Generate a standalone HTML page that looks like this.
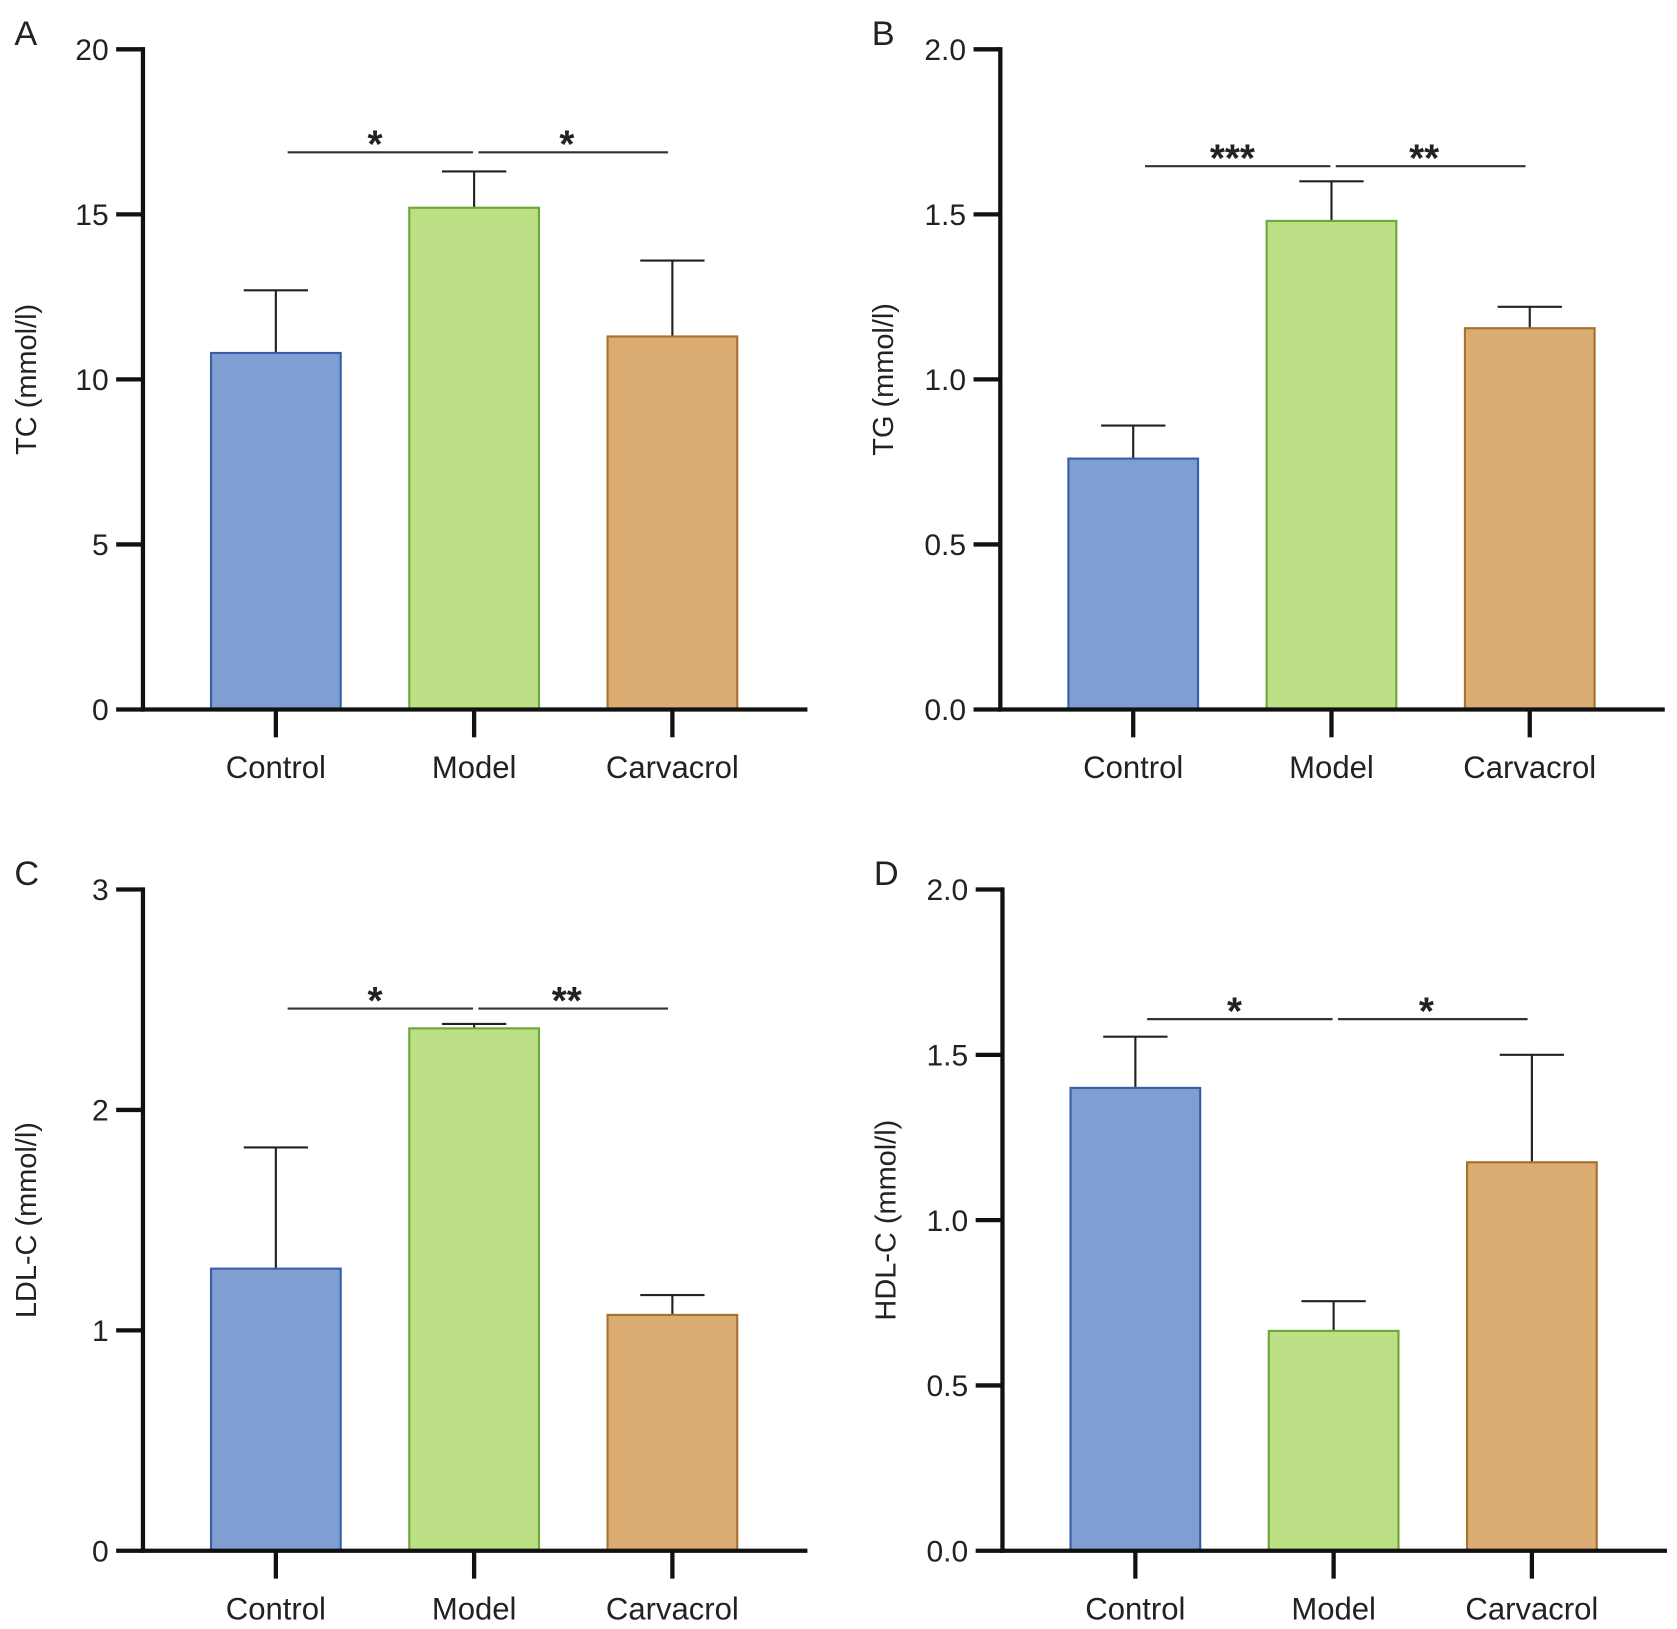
<!DOCTYPE html>
<html><head><meta charset="utf-8"><style>
html,body{margin:0;padding:0;background:#fff}
svg{display:block}
text{font-family:"Liberation Sans",Arial,sans-serif;fill:#222}
</style></head><body>
<svg id="fig" width="1677" height="1629" viewBox="0 0 1564 1520" xmlns="http://www.w3.org/2000/svg"></svg>
<script>
const categories = ["Control","Model","Carvacrol"];
const tcValues = [10.8, 15.2, 11.3];
const tcErrors = [12.7, 16.3, 13.6];
const tgValues = [0.76, 1.48, 1.155];
const tgErrors = [0.86, 1.6, 1.22];
const ldlValues = [1.28, 2.37, 1.07];
const ldlErrors = [1.83, 2.39, 1.16];
const hdlValues = [1.40, 0.665, 1.175];
const hdlErrors = [1.555, 0.755, 1.5];
const tcTicks = ["0","5","10","15","20"];
const tgTicks = ["0.0","0.5","1.0","1.5","2.0"];
const ldlTicks = ["0","1","2","3"];
const hdlTicks = ["0.0","0.5","1.0","1.5","2.0"];
const tcSig = [16.88, "*", "*"];
const tgSig = [1.646, "***", "**"];
const ldlSig = [2.46, "*", "**"];
const hdlSig = [1.608, "*", "*"];

const fills = ["#7f9fd3","#bddf86","#dcad72"];
const strokes = ["#3a5ea8","#6aa83a","#a8702e"];
const NS = "http://www.w3.org/2000/svg";
const svg = document.getElementById("fig");
function mk(tag, attrs, parent, txt){
  const e = document.createElementNS(NS, tag);
  for (const k in attrs) e.setAttribute(k, attrs[k]);
  if (txt !== undefined) e.textContent = txt;
  (parent||svg).appendChild(e);
  return e;
}
function panel(o){
  const g = mk("g", {});
  
  
  const ymax = o.max;
  const y = v => o.y0 - (v / ymax) * (o.y0 - o.yTop);
  const step = 185;
  const xc = i => o.ax + 124 + i * step;
  const bw = 121;
  const t = mk("text", {x:o.ax-120, y:o.yTop-4, "font-size":32}, g, o.letter);
  
  
  o.vals.forEach((v,i)=>{
    const eb = mk("g", {}, g);
    
    
    mk("line", {x1:xc(i), x2:xc(i), y1:y(v), y2:y(o.errs[i]), stroke:"#222","stroke-width":2}, eb);
    mk("line", {x1:xc(i)-30, x2:xc(i)+30, y1:y(o.errs[i]), y2:y(o.errs[i]), stroke:"#222","stroke-width":2}, eb);
    const r = mk("rect", {x:xc(i)-bw/2, y:y(v), width:bw, height:o.y0-y(v), fill:fills[i], stroke:strokes[i], "stroke-width":2}, g);
    
    
  });
  const ya = mk("g", {}, g);
  
  
  mk("line", {x1:o.ax, x2:o.ax, y1:o.yTop-2, y2:o.y0+2, stroke:"#111","stroke-width":4}, ya);
  o.ticks.forEach(tk=>{
    const v = parseFloat(tk);
    mk("line", {x1:o.ax-25, x2:o.ax, y1:y(v), y2:y(v), stroke:"#111","stroke-width":4}, ya);
    const tl = mk("text", {x:o.ax-32, y:y(v)+10, "font-size":28, "text-anchor":"end"}, ya, tk);
    
    
  });
  const yt = mk("text", {transform:`translate(${o.ax-100},${(o.y0+o.yTop)/2}) rotate(-90)`, "font-size":27, "text-anchor":"middle"}, g, o.title);
  
  
  const xa = mk("g", {}, g);
  
  
  mk("line", {x1:o.ax-2, x2:o.ax+620, y1:o.y0, y2:o.y0, stroke:"#111","stroke-width":4}, xa);
  categories.forEach((c,i)=>{
    mk("line", {x1:xc(i), x2:xc(i), y1:o.y0, y2:o.y0+26, stroke:"#111","stroke-width":4}, xa);
    const xl = mk("text", {x:xc(i), y:o.y0+64, "font-size":29, "text-anchor":"middle"}, xa, c);
    
    
  });
  const sg = mk("g", {}, g);
  
  
  const sy = y(o.sig[0]);
  mk("line", {x1:xc(0)+11, x2:xc(1)-1, y1:sy, y2:sy, stroke:"#333","stroke-width":2}, sg);
  mk("line", {x1:xc(1)+4, x2:xc(2)-4, y1:sy, y2:sy, stroke:"#333","stroke-width":2}, sg);
  mk("text", {x:(xc(0)+xc(1))/2, y:sy+5, "font-size":36, "font-weight":"bold", "text-anchor":"middle"}, sg, o.sig[1]);
  mk("text", {x:(xc(1)+xc(2))/2-6, y:sy+5, "font-size":36, "font-weight":"bold", "text-anchor":"middle"}, sg, o.sig[2]);
}
panel({letter:"A", ax:133, yTop:46, y0:662, max:20, vals:tcValues, errs:tcErrors, ticks:tcTicks, title:"TC (mmol/l)", sig:tcSig});
panel({letter:"B", ax:933, yTop:46, y0:662, max:2, vals:tgValues, errs:tgErrors, ticks:tgTicks, title:"TG (mmol/l)", sig:tgSig});
panel({letter:"C", ax:133, yTop:830, y0:1447, max:3, vals:ldlValues, errs:ldlErrors, ticks:ldlTicks, title:"LDL-C (mmol/l)", sig:ldlSig});
panel({letter:"D", ax:935, yTop:830, y0:1447, max:2, vals:hdlValues, errs:hdlErrors, ticks:hdlTicks, title:"HDL-C (mmol/l)", sig:hdlSig});
</script>
</body></html>
